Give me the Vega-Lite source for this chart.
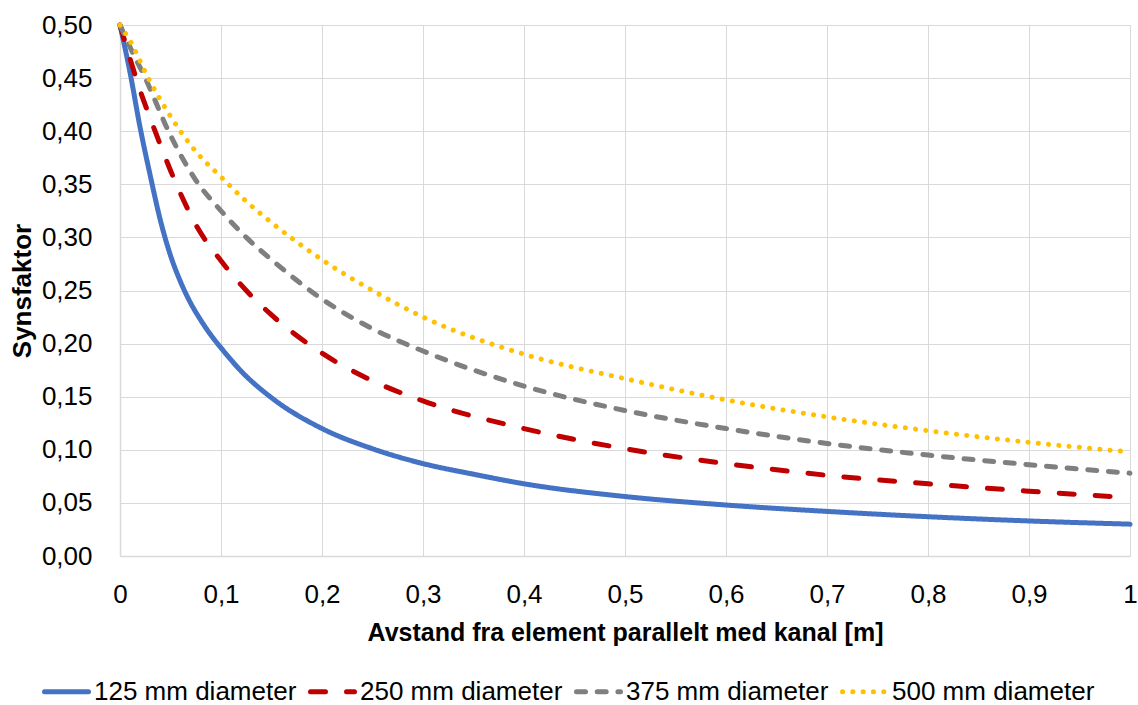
{
  "$schema": "https://vega.github.io/schema/vega-lite/v6.json",
  "width": 1010,
  "height": 531,
  "autosize": {"type": "none"},
  "padding": {"left": 120, "top": 25, "right": 8, "bottom": 149},
  "background": "white",
  "config": {
    "font": "Liberation Sans",
    "view": {"stroke": null},
    "axis": {
      "gridColor": "#D9D9D9",
      "gridWidth": 1,
      "domainColor": "#D9D9D9",
      "domainWidth": 1.5,
      "ticks": false,
      "labelFont": "Liberation Sans",
      "labelFontSize": 26,
      "labelColor": "#000000",
      "labelFlush": false,
      "labelOverlap": false,
      "titleFont": "Liberation Sans",
      "titleFontWeight": "bold",
      "titleColor": "#000000"
    }
  },
  "data": {
    "values": [
      {"x": 0, "y": 0.5, "s": "125 mm diameter"},
      {"x": 0.01, "y": 0.455, "s": "125 mm diameter"},
      {"x": 0.02, "y": 0.403, "s": "125 mm diameter"},
      {"x": 0.03, "y": 0.358, "s": "125 mm diameter"},
      {"x": 0.04, "y": 0.316, "s": "125 mm diameter"},
      {"x": 0.05, "y": 0.283, "s": "125 mm diameter"},
      {"x": 0.06, "y": 0.258, "s": "125 mm diameter"},
      {"x": 0.07, "y": 0.238, "s": "125 mm diameter"},
      {"x": 0.08, "y": 0.222, "s": "125 mm diameter"},
      {"x": 0.09, "y": 0.208, "s": "125 mm diameter"},
      {"x": 0.1, "y": 0.196, "s": "125 mm diameter"},
      {"x": 0.12, "y": 0.174, "s": "125 mm diameter"},
      {"x": 0.15, "y": 0.149, "s": "125 mm diameter"},
      {"x": 0.2, "y": 0.12, "s": "125 mm diameter"},
      {"x": 0.25, "y": 0.101, "s": "125 mm diameter"},
      {"x": 0.3, "y": 0.087, "s": "125 mm diameter"},
      {"x": 0.35, "y": 0.077, "s": "125 mm diameter"},
      {"x": 0.4, "y": 0.068, "s": "125 mm diameter"},
      {"x": 0.5, "y": 0.056, "s": "125 mm diameter"},
      {"x": 0.6, "y": 0.048, "s": "125 mm diameter"},
      {"x": 0.7, "y": 0.042, "s": "125 mm diameter"},
      {"x": 0.8, "y": 0.037, "s": "125 mm diameter"},
      {"x": 0.9, "y": 0.033, "s": "125 mm diameter"},
      {"x": 1.0, "y": 0.03, "s": "125 mm diameter"},

      {"x": 0, "y": 0.5, "s": "250 mm diameter"},
      {"x": 0.01, "y": 0.468, "s": "250 mm diameter"},
      {"x": 0.02, "y": 0.438, "s": "250 mm diameter"},
      {"x": 0.03, "y": 0.412, "s": "250 mm diameter"},
      {"x": 0.04, "y": 0.387, "s": "250 mm diameter"},
      {"x": 0.05, "y": 0.363, "s": "250 mm diameter"},
      {"x": 0.06, "y": 0.341, "s": "250 mm diameter"},
      {"x": 0.075, "y": 0.312, "s": "250 mm diameter"},
      {"x": 0.1, "y": 0.278, "s": "250 mm diameter"},
      {"x": 0.125, "y": 0.25, "s": "250 mm diameter"},
      {"x": 0.15, "y": 0.227, "s": "250 mm diameter"},
      {"x": 0.2, "y": 0.191, "s": "250 mm diameter"},
      {"x": 0.25, "y": 0.165, "s": "250 mm diameter"},
      {"x": 0.3, "y": 0.146, "s": "250 mm diameter"},
      {"x": 0.4, "y": 0.12, "s": "250 mm diameter"},
      {"x": 0.5, "y": 0.101, "s": "250 mm diameter"},
      {"x": 0.6, "y": 0.087, "s": "250 mm diameter"},
      {"x": 0.7, "y": 0.076, "s": "250 mm diameter"},
      {"x": 0.8, "y": 0.068, "s": "250 mm diameter"},
      {"x": 0.9, "y": 0.061, "s": "250 mm diameter"},
      {"x": 1.0, "y": 0.055, "s": "250 mm diameter"},

      {"x": 0, "y": 0.5, "s": "375 mm diameter"},
      {"x": 0.01, "y": 0.479, "s": "375 mm diameter"},
      {"x": 0.025, "y": 0.45, "s": "375 mm diameter"},
      {"x": 0.05, "y": 0.396, "s": "375 mm diameter"},
      {"x": 0.075, "y": 0.354, "s": "375 mm diameter"},
      {"x": 0.1, "y": 0.325, "s": "375 mm diameter"},
      {"x": 0.125, "y": 0.3, "s": "375 mm diameter"},
      {"x": 0.15, "y": 0.279, "s": "375 mm diameter"},
      {"x": 0.2, "y": 0.242, "s": "375 mm diameter"},
      {"x": 0.25, "y": 0.214, "s": "375 mm diameter"},
      {"x": 0.3, "y": 0.193, "s": "375 mm diameter"},
      {"x": 0.4, "y": 0.16, "s": "375 mm diameter"},
      {"x": 0.5, "y": 0.137, "s": "375 mm diameter"},
      {"x": 0.6, "y": 0.12, "s": "375 mm diameter"},
      {"x": 0.7, "y": 0.106, "s": "375 mm diameter"},
      {"x": 0.8, "y": 0.095, "s": "375 mm diameter"},
      {"x": 0.9, "y": 0.086, "s": "375 mm diameter"},
      {"x": 1.0, "y": 0.078, "s": "375 mm diameter"},

      {"x": 0, "y": 0.5, "s": "500 mm diameter"},
      {"x": 0.01, "y": 0.485, "s": "500 mm diameter"},
      {"x": 0.028, "y": 0.45, "s": "500 mm diameter"},
      {"x": 0.05, "y": 0.414, "s": "500 mm diameter"},
      {"x": 0.075, "y": 0.381, "s": "500 mm diameter"},
      {"x": 0.1, "y": 0.357, "s": "500 mm diameter"},
      {"x": 0.125, "y": 0.334, "s": "500 mm diameter"},
      {"x": 0.15, "y": 0.314, "s": "500 mm diameter"},
      {"x": 0.2, "y": 0.279, "s": "500 mm diameter"},
      {"x": 0.25, "y": 0.25, "s": "500 mm diameter"},
      {"x": 0.3, "y": 0.225, "s": "500 mm diameter"},
      {"x": 0.4, "y": 0.19, "s": "500 mm diameter"},
      {"x": 0.5, "y": 0.167, "s": "500 mm diameter"},
      {"x": 0.6, "y": 0.147, "s": "500 mm diameter"},
      {"x": 0.7, "y": 0.131, "s": "500 mm diameter"},
      {"x": 0.8, "y": 0.118, "s": "500 mm diameter"},
      {"x": 0.9, "y": 0.107, "s": "500 mm diameter"},
      {"x": 1.0, "y": 0.098, "s": "500 mm diameter"}
    ]
  },
  "mark": {"type": "line", "strokeWidth": 5, "interpolate": "monotone", "strokeCap": "round"},
  "encoding": {
    "x": {
      "field": "x",
      "type": "quantitative",
      "scale": {"domain": [0, 1], "nice": false},
      "axis": {
        "values": [0, 0.1, 0.2, 0.3, 0.4, 0.5, 0.6, 0.7, 0.8, 0.9, 1],
        "labelExpr": "replace(format(datum.value, '.1~f'), '.', ',')",
        "labelPadding": 25,
        "title": "Avstand fra element parallelt med kanal [m]",
        "titleFontSize": 25,
        "titlePadding": 13
      }
    },
    "y": {
      "field": "y",
      "type": "quantitative",
      "scale": {"domain": [0, 0.5], "nice": false},
      "axis": {
        "values": [0, 0.05, 0.1, 0.15, 0.2, 0.25, 0.3, 0.35, 0.4, 0.45, 0.5],
        "labelExpr": "replace(format(datum.value, '.2f'), '.', ',')",
        "labelPadding": 28,
        "title": "Synsfaktor",
        "titleFontSize": 26,
        "titlePadding": 6
      }
    },
    "color": {
      "field": "s",
      "type": "nominal",
      "title": null,
      "scale": {
        "domain": ["125 mm diameter", "250 mm diameter", "375 mm diameter", "500 mm diameter"],
        "range": ["#4472C4", "#C00000", "#7F7F7F", "#FFC000"]
      },
      "legend": {
        "orient": "none",
        "legendX": -78,
        "legendY": 642,
        "direction": "horizontal",
        "symbolType": "stroke",
        "symbolStrokeWidth": 5,
        "symbolSize": 1936,
        "labelFont": "Liberation Sans",
        "labelFontSize": 26,
        "labelColor": "#000000",
        "labelLimit": 0,
        "columnPadding": 3,
        "labelOffset": 3,
        "encode": {
          "symbols": {"update": {"strokeCap": {"value": "round"}}}
        }
      }
    },
    "strokeDash": {
      "field": "s",
      "type": "nominal",
      "title": null,
      "scale": {
        "domain": ["125 mm diameter", "250 mm diameter", "375 mm diameter", "500 mm diameter"],
        "range": [[1, 0], [15, 21], [9, 11.7], [0.1, 10.2]]
      }
    }
  }
}
